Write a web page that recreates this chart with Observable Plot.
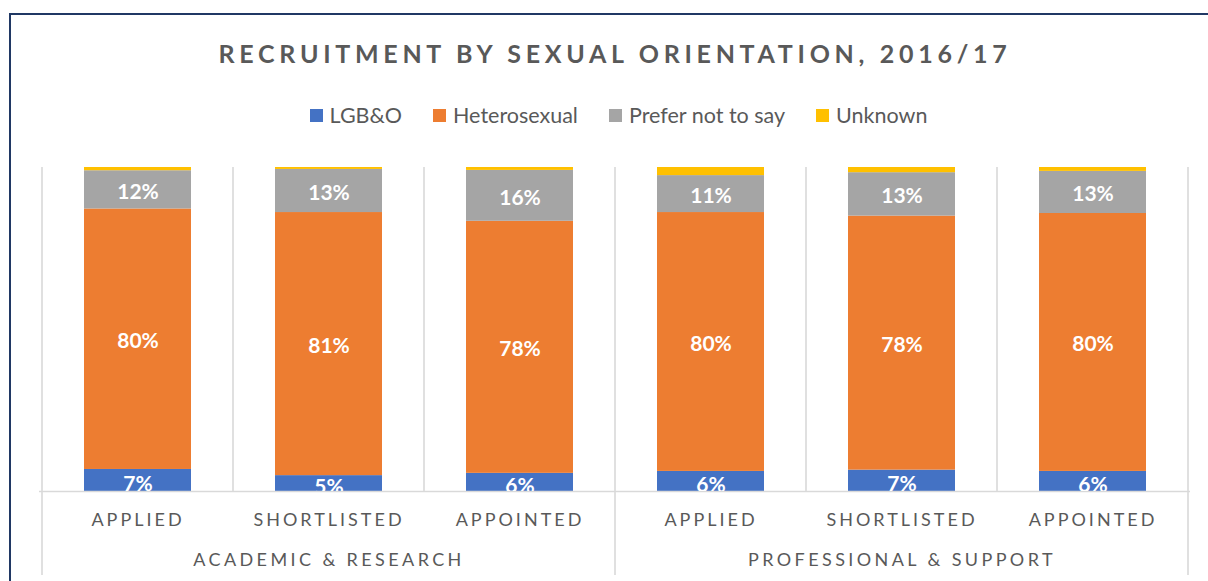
<!DOCTYPE html>
<html>
<head>
<meta charset="utf-8">
<script src="https://cdn.jsdelivr.net/npm/d3@7"></script>
<script src="https://cdn.jsdelivr.net/npm/@observablehq/plot@0.6"></script>
<style>
  html, body { margin: 0; padding: 0; width: 1208px; height: 581px; overflow: hidden; background: #fff; }
  body { position: relative; font-family: Lato, "Open Sans", sans-serif; }
  #frame { position: absolute; left: 9px; top: 13px; width: 1400px; height: 800px; border: 2px solid #203864; box-sizing: border-box; }
  #title { position: absolute; left: 0; top: 41px; width: 1225px; text-align: center; font-size: 25px; line-height: 25px; font-weight: 700; color: #595959; letter-spacing: 4.7px; padding-left: 5px; box-sizing: border-box; white-space: nowrap; }
  #legend { position: absolute; left: 0; top: 105px; width: 1237px; display: flex; justify-content: center; gap: 31px; font-size: 21.5px; line-height: 20px; color: #595959; }
  #legend .item { display: flex; align-items: center; white-space: nowrap; }
  #legend .sw { width: 13px; height: 13px; margin-right: 7px; display: inline-block; }
  #chart { position: absolute; left: 0; top: 150px; }
  g[aria-description="stage-label"] text { letter-spacing: 3px; }
  g[aria-description="group-label"] text { letter-spacing: 3.4px; }
</style>
</head>
<body>
<div id="frame"></div>
<div id="title"></div>
<div id="legend"></div>
<div id="chart"></div>
<script>
const titleText = "RECRUITMENT BY SEXUAL ORIENTATION, 2016/17";
const groups = ["ACADEMIC & RESEARCH", "PROFESSIONAL & SUPPORT"];
const stages = ["APPLIED", "SHORTLISTED", "APPOINTED"];
const series = ["LGB&O", "Heterosexual", "Prefer not to say", "Unknown"];
const colors = ["#4472C4", "#ED7D31", "#A5A5A5", "#FFC000"];
// values in percent, order: A&R Applied, A&R Shortlisted, A&R Appointed, P&S Applied, P&S Shortlisted, P&S Appointed
const lgbo      = [6.8, 4.9, 5.6, 6.2, 6.6, 6.2];
const hetero    = [80.4, 81.2, 77.8, 79.9, 78.4, 79.6];
const preferNot = [11.8, 13.3, 15.7, 11.4, 13.4, 13.0];
const unknown   = [1.0, 0.6, 0.9, 2.5, 1.6, 1.2];
const seriesValues = [lgbo, hetero, preferNot, unknown];

// Build table
const cats = [];
groups.forEach(g => stages.forEach(s => cats.push({group: g, stage: s, key: g + "|" + s})));
const keys = cats.map(c => c.key);
const rows = [];
cats.forEach((c, i) => series.forEach((s, j) => rows.push({key: c.key, group: c.group, stage: c.stage, series: s, value: seriesValues[j][i]})));
const groupRows = groups.map(g => ({group: g, key: g + "|" + stages[Math.floor(stages.length / 2)]}));

// Title & legend (HTML)
document.getElementById("title").textContent = titleText;
const legend = d3.select("#legend");
series.forEach((s, i) => {
  const it = legend.append("div").attr("class", "item");
  it.append("span").attr("class", "sw").style("background", colors[i]);
  it.append("span").text(s);
});

// Category separators drawn from the band scale
function separators(index, scales, values, dims) {
  const x = scales.x, y = scales.y;
  const dom = x.domain();
  const step = typeof x.step === "function" ? x.step() : (x(dom[1]) - x(dom[0]));
  const bw = typeof x.bandwidth === "function" ? x.bandwidth() : step * 0.56;
  const half = (step - bw) / 2;
  const bounds = dom.map((k, i) => ({pos: x(k) - half, group: i % stages.length === 0}));
  bounds.push({pos: x(dom[dom.length - 1]) + bw + half, group: true});
  const g = d3.create("svg:g");
  g.selectAll("line").data(bounds).join("line")
    .attr("x1", d => d.pos).attr("x2", d => d.pos)
    .attr("y1", y(100))
    .attr("y2", d => d.group ? dims.height - 6 : y(0))
    .attr("stroke", "#D9D9D9").attr("stroke-width", 1.6);
  return g.node();
}

const labelOpts = {x: "key", y: "value", z: "series", text: d => Math.round(d.value) + "%",
  fill: "white", fontWeight: "bold", fontSize: 21, clip: true};

const chart = Plot.plot({
  width: 1208,
  height: 431,
  marginLeft: 39,
  marginRight: 18,
  marginTop: 17,
  marginBottom: 90,
  style: {fontFamily: "Lato, 'Open Sans', sans-serif", background: "transparent", overflow: "visible"},
  x: {type: "band", domain: keys, paddingInner: 0.44, paddingOuter: 0.22, axis: null},
  y: {domain: [0, 100], axis: null},
  color: {domain: series, range: colors},
  marks: [
    separators,
    Plot.barY(rows, Plot.stackY({x: "key", y: "value", fill: "series", z: "series"})),
    Plot.ruleY([0], {stroke: "#D9D9D9", strokeWidth: 1.6}),
    // labels for the bottom series sit slightly lower and get clipped by the axis
    Plot.text(rows.filter(d => d.series !== "Unknown"), Plot.stackY({...labelOpts, dy: 2,
      text: d => d.series === series[0] ? null : Math.round(d.value) + "%"})),
    Plot.text(rows.filter(d => d.series !== "Unknown"), Plot.stackY({...labelOpts, dy: 3.5,
      text: d => d.series === series[0] ? Math.round(d.value) + "%" : null})),
    Plot.text(cats, {x: "key", text: "stage", frameAnchor: "bottom", dy: 34, fontSize: 18, fill: "#595959", ariaDescription: "stage-label"}),
    Plot.text(groupRows, {x: "key", text: "group", frameAnchor: "bottom", dy: 74, fontSize: 18, fill: "#595959", ariaDescription: "group-label"})
  ]
});
document.getElementById("chart").appendChild(chart);
</script>
</body>
</html>
